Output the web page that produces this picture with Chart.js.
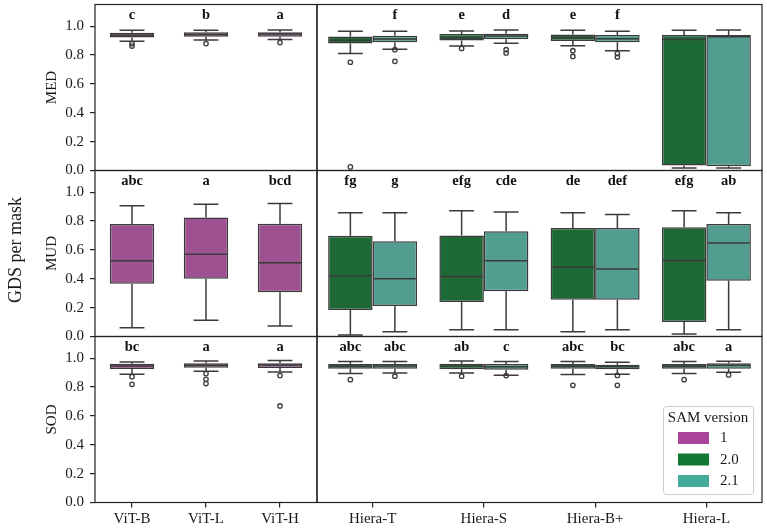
<!DOCTYPE html>
<html>
<head>
<meta charset="utf-8">
<script src="https://cdn.jsdelivr.net/npm/chart.js@4.4.1/dist/chart.umd.min.js"></script>
<style>
  html, body { margin: 0; padding: 0; background: #ffffff; }
  #wrap { position: relative; width: 767px; height: 528px; overflow: hidden; }
  #wrap canvas { position: absolute; }
</style>
</head>
<body>
<div id="wrap">
  <canvas id="medLeft"></canvas>
  <canvas id="medRight"></canvas>
  <canvas id="mudLeft"></canvas>
  <canvas id="mudRight"></canvas>
  <canvas id="sodLeft"></canvas>
  <canvas id="sodRight"></canvas>
</div>
<script>
// Categorias de cada panel
const vitModels = ["ViT-B", "ViT-L", "ViT-H"];
const hieraModels = ["Hiera-T", "Hiera-S", "Hiera-B+", "Hiera-L"];
const yTicks = [0, 0.2, 0.4, 0.6, 0.8, 1.0];

// Cajas: [bigote inferior, Q1, mediana, Q3, bigote superior]
const medV1 = [[0.895, 0.922, 0.938, 0.955, 0.971], [0.904, 0.927, 0.943, 0.957, 0.971], [0.907, 0.927, 0.945, 0.957, 0.973]];
const medV1Out = [[0.879, 0.862], [0.879], [0.886]];
const medV20 = [[0.81, 0.879, 0.902, 0.929, 0.964], [0.862, 0.90, 0.92, 0.945, 0.966], [0.865, 0.897, 0.92, 0.943, 0.971], [0.018, 0.035, 0.907, 0.939, 0.971]];
const medV20Out = [[0.75, 0.025], [0.846], [0.83, 0.79], []];
const medV21 = [[0.84, 0.888, 0.911, 0.934, 0.964], [0.881, 0.909, 0.932, 0.948, 0.973], [0.829, 0.888, 0.913, 0.939, 0.964], [0.018, 0.03, 0.927, 0.939, 0.973]];
const medV21Out = [[0.837, 0.756], [0.837, 0.814], [0.81, 0.786], []];

const mudV1 = [[0.061, 0.366, 0.525, 0.779, 0.905], [0.112, 0.40, 0.569, 0.825, 0.917], [0.073, 0.306, 0.511, 0.781, 0.922]];
const mudV20 = [[0.01, 0.183, 0.421, 0.698, 0.857], [0.047, 0.239, 0.416, 0.70, 0.871], [0.033, 0.255, 0.479, 0.751, 0.857], [0.017, 0.10, 0.527, 0.756, 0.871]];
const mudV21 = [[0.033, 0.211, 0.40, 0.659, 0.857], [0.047, 0.313, 0.525, 0.73, 0.862], [0.047, 0.255, 0.467, 0.751, 0.846], [0.047, 0.386, 0.647, 0.779, 0.857]];

const sodV1 = [[0.889, 0.925, 0.946, 0.962, 0.974], [0.909, 0.934, 0.951, 0.965, 0.981], [0.904, 0.932, 0.953, 0.965, 0.983]];
const sodV1Out = [[0.872, 0.819], [0.893, 0.854, 0.824], [0.879, 0.669]];
const sodV20 = [[0.893, 0.927, 0.945, 0.96, 0.976], [0.898, 0.923, 0.946, 0.962, 0.981], [0.886, 0.927, 0.945, 0.96, 0.976], [0.893, 0.927, 0.945, 0.96, 0.976]];
const sodV20Out = [[0.851], [0.875], [0.812], [0.851]];
const sodV21 = [[0.898, 0.927, 0.945, 0.96, 0.976], [0.882, 0.92, 0.94, 0.96, 0.976], [0.889, 0.923, 0.94, 0.955, 0.972], [0.902, 0.927, 0.95, 0.965, 0.979]];
const sodV21Out = [[0.875], [0.879], [0.88, 0.812], [0.884]];

// Letras de significancia sobre cada caja
const medLettersV1 = ["c", "b", "a"];
const mudLettersV1 = ["abc", "a", "bcd"];
const sodLettersV1 = ["bc", "a", "a"];
const medLettersV20 = ["", "e", "e", ""];
const medLettersV21 = ["f", "d", "f", ""];
const mudLettersV20 = ["fg", "efg", "de", "efg"];
const mudLettersV21 = ["g", "cde", "def", "ab"];
const sodLettersV20 = ["abc", "ab", "abc", "abc"];
const sodLettersV21 = ["abc", "c", "bc", "a"];

// Leyenda
const legendLabels = ["1", "2.0", "2.1"];
const legendColors = ["#AA4499", "#117733", "#44AA99"];

const serif = "'Liberation Serif', 'Times New Roman', serif";
const lineColor = "#3b3b3b";
const boxColors = { v1: "#9D5190", v20: "#1E6A37", v21: "#519D90" };

Chart.defaults.color = "#1a1a1a";
Chart.defaults.font.family = serif;

// Dibuja bigotes, medianas, atipicos, letras y el marco de cada panel
const boxPlotPlugin = {
    id: "boxPlotPlugin",

    afterDatasetsDraw(chart) {
        const ctx = chart.ctx;
        const y = chart.scales.y;
        ctx.save();
        ctx.strokeStyle = lineColor;
        ctx.lineWidth = 1.5;
        chart.data.datasets.forEach((ds, i) => {
            chart.getDatasetMeta(i).data.forEach((bar, j) => {
                const s = ds.stats[j];
                const p = bar.getProps(["x", "width"], true);
                const half = p.width / 2;
                const cap = p.width * 0.28;
                const py = s.map(v => y.getPixelForValue(v));

                ctx.beginPath();
                ctx.moveTo(p.x, py[1]); ctx.lineTo(p.x, py[0]);
                ctx.moveTo(p.x, py[3]); ctx.lineTo(p.x, py[4]);
                ctx.moveTo(p.x - cap, py[0]); ctx.lineTo(p.x + cap, py[0]);
                ctx.moveTo(p.x - cap, py[4]); ctx.lineTo(p.x + cap, py[4]);
                ctx.moveTo(p.x - half + 1, py[2]); ctx.lineTo(p.x + half - 1, py[2]);
                ctx.stroke();

                // Valores atipicos
                ctx.lineWidth = 1.3;
                (ds.outliers[j] || []).forEach(v => {
                    ctx.beginPath();
                    ctx.arc(p.x, y.getPixelForValue(v), 2.2, 0, Math.PI * 2);
                    ctx.stroke();
                });
                ctx.lineWidth = 1.5;
            });
        });
        ctx.restore();
    },

    afterDraw(chart) {
        const ctx = chart.ctx;
        const a = chart.chartArea;
        ctx.save();

        // Letras en negrita arriba de cada caja
        ctx.fillStyle = "#111";
        ctx.font = "bold 14.5px " + serif;
        ctx.textAlign = "center";
        ctx.textBaseline = "middle";
        chart.data.datasets.forEach((ds, i) => {
            chart.getDatasetMeta(i).data.forEach((bar, j) => {
                const label = ds.letters[j];
                if (label) ctx.fillText(label, bar.x, a.top + 11);
            });
        });

        // Marco del panel
        ctx.strokeStyle = "#222";
        ctx.lineWidth = 1.2;
        ctx.strokeRect(a.left, a.top, a.right - a.left, a.bottom - a.top);
        ctx.restore();
    }
};

// Leyenda "SAM version" dentro del panel inferior derecho
const legendPlugin = {
    id: "legendPlugin",
    afterDraw(chart) {
        const ctx = chart.ctx;
        const a = chart.chartArea;
        const w = 90, h = 88;
        const lx = a.right - 9 - w;
        const ly = a.bottom - 8.5 - h;
        ctx.save();
        ctx.fillStyle = "rgba(255,255,255,0.85)";
        ctx.strokeStyle = "#cccccc";
        ctx.lineWidth = 1;
        ctx.beginPath();
        ctx.roundRect(lx + 0.5, ly + 0.5, w, h, 3);
        ctx.fill();
        ctx.stroke();

        ctx.fillStyle = "#1a1a1a";
        ctx.font = "15px " + serif;
        ctx.textAlign = "center";
        ctx.textBaseline = "middle";
        ctx.fillText("SAM version", lx + w / 2, ly + 12.5);

        ctx.textAlign = "left";
        legendLabels.forEach((label, k) => {
            const cy = ly + 32 + k * 21.5;
            ctx.fillStyle = legendColors[k];
            ctx.fillRect(lx + 15, cy - 6, 31, 12);
            ctx.fillStyle = "#1a1a1a";
            ctx.fillText(label, lx + 57, cy + 0.5);
        });
        ctx.restore();
    }
};

// Titulo general del eje y
const yTitlePlugin = {
    id: "yTitlePlugin",
    afterDraw(chart) {
        const ctx = chart.ctx;
        ctx.save();
        ctx.translate(16, 250 - chart.canvas.offsetTop);
        ctx.rotate(-Math.PI / 2);
        ctx.fillStyle = "#1a1a1a";
        ctx.font = "18px " + serif;
        ctx.textAlign = "center";
        ctx.textBaseline = "middle";
        ctx.fillText("GDS per mask", 0, 0);
        ctx.restore();
    }
};

function makePanel(id, o) {
    const canvas = document.getElementById(id);
    canvas.width = o.w;
    canvas.height = o.h;
    canvas.style.left = o.x + "px";
    canvas.style.top = o.y + "px";

    const datasets = o.series.map(s => ({
        label: s.label,
        data: s.stats.map(b => [b[1], b[3]]),
        stats: s.stats,
        outliers: s.outliers,
        letters: s.letters,
        backgroundColor: s.color,
        borderColor: lineColor,
        borderWidth: 1.5,
        borderSkipped: false,
        categoryPercentage: o.catPct,
        barPercentage: 1
    }));

    return new Chart(canvas, {
        type: "bar",
        data: { labels: o.labels, datasets: datasets },
        options: {
            responsive: false,
            animation: false,
            events: [],
            layout: { padding: o.padding },
            plugins: {
                legend: { display: false },
                tooltip: { enabled: false }
            },
            scales: {
                x: {
                    display: o.showX,
                    offset: true,
                    grid: { offset: false, drawOnChartArea: false, tickLength: 5, color: "#222", lineWidth: 1.2 },
                    border: { display: false },
                    ticks: { padding: 3, color: "#1a1a1a", font: { size: 15, family: serif } },
                    afterFit: s => {
                        if (o.xHeight) s.height = o.xHeight;
                        s.paddingLeft = 0;
                        s.paddingRight = 0;
                    }
                },
                y: {
                    display: o.showY,
                    min: 0,
                    max: 1.15,
                    afterBuildTicks: s => { s.ticks = yTicks.map(v => ({ value: v })); },
                    grid: { drawOnChartArea: false, tickLength: 5, color: "#222", lineWidth: 1.2 },
                    border: { display: false },
                    ticks: {
                        padding: 6,
                        color: "#1a1a1a",
                        font: { size: 15, family: serif },
                        callback: v => Number(v).toFixed(1)
                    },
                    title: {
                        display: !!o.title,
                        text: o.title,
                        color: "#1a1a1a",
                        font: { size: 15, family: serif },
                        padding: { top: 43, bottom: 0 }
                    },
                    afterFit: s => {
                        if (o.showY) s.width = 95;
                        s.paddingTop = 0;
                        s.paddingBottom = 0;
                    }
                }
            }
        },
        plugins: [boxPlotPlugin].concat(o.extra || [])
    });
}

const leftPad = { left: 0, right: 3 };
const rightPad = { left: 3, right: 5 };

// Fila MED
makePanel("medLeft", {
    x: 0, y: 0, w: 320, h: 174, labels: vitModels, catPct: 0.6,
    padding: Object.assign({ top: 4.5, bottom: 3.5 }, leftPad),
    showX: false, showY: true, title: "MED",
    series: [{ label: "1", stats: medV1, outliers: medV1Out, letters: medLettersV1, color: boxColors.v1 }]
});
makePanel("medRight", {
    x: 314, y: 0, w: 453, h: 174, labels: hieraModels, catPct: 0.8,
    padding: Object.assign({ top: 4.5, bottom: 3.5 }, rightPad),
    showX: false, showY: false,
    series: [
        { label: "2.0", stats: medV20, outliers: medV20Out, letters: medLettersV20, color: boxColors.v20 },
        { label: "2.1", stats: medV21, outliers: medV21Out, letters: medLettersV21, color: boxColors.v21 }
    ]
});

// Fila MUD
makePanel("mudLeft", {
    x: 0, y: 167, w: 320, h: 173, labels: vitModels, catPct: 0.6,
    padding: Object.assign({ top: 3.5, bottom: 3.5 }, leftPad),
    showX: false, showY: true, title: "MUD",
    series: [{ label: "1", stats: mudV1, outliers: [], letters: mudLettersV1, color: boxColors.v1 }],
    extra: [yTitlePlugin]
});
makePanel("mudRight", {
    x: 314, y: 167, w: 453, h: 173, labels: hieraModels, catPct: 0.8,
    padding: Object.assign({ top: 3.5, bottom: 3.5 }, rightPad),
    showX: false, showY: false,
    series: [
        { label: "2.0", stats: mudV20, outliers: [], letters: mudLettersV20, color: boxColors.v20 },
        { label: "2.1", stats: mudV21, outliers: [], letters: mudLettersV21, color: boxColors.v21 }
    ]
});

// Fila SOD
makePanel("sodLeft", {
    x: 0, y: 333, w: 320, h: 195, labels: vitModels, catPct: 0.6,
    padding: Object.assign({ top: 3.5, bottom: 0 }, leftPad),
    showX: true, xHeight: 25.5, showY: true, title: "SOD",
    series: [{ label: "1", stats: sodV1, outliers: sodV1Out, letters: sodLettersV1, color: boxColors.v1 }]
});
makePanel("sodRight", {
    x: 314, y: 333, w: 453, h: 195, labels: hieraModels, catPct: 0.8,
    padding: Object.assign({ top: 3.5, bottom: 0 }, rightPad),
    showX: true, xHeight: 25.5, showY: false,
    series: [
        { label: "2.0", stats: sodV20, outliers: sodV20Out, letters: sodLettersV20, color: boxColors.v20 },
        { label: "2.1", stats: sodV21, outliers: sodV21Out, letters: sodLettersV21, color: boxColors.v21 }
    ],
    extra: [legendPlugin]
});
</script>
</body>
</html>
